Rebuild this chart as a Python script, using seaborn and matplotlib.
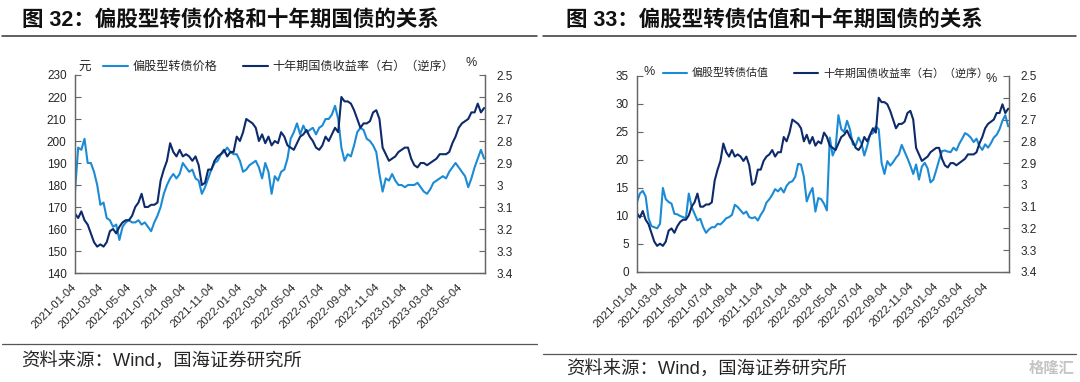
import numpy as np
import pandas as pd
import matplotlib
matplotlib.use("Agg")
import matplotlib.pyplot as plt
from matplotlib.ticker import FuncFormatter
import seaborn as sns

# DATA (weekly readings, Mondays from 2021-01-04)
dates = pd.date_range("2021-01-04", periods=130, freq="7D")

tick_labels = ["2021-01-04", "2021-03-04", "2021-05-04", "2021-07-04", "2021-09-04",
               "2021-11-04", "2022-01-04", "2022-03-04", "2022-05-04", "2022-07-04",
               "2022-09-04", "2022-11-04", "2023-01-04", "2023-03-04", "2023-05-04"]

# 10Y government bond yield (%), right axis, reversed
yield_10y = [3.13, 3.15, 3.12, 3.16, 3.18, 3.22, 3.26, 3.28, 3.27, 3.28,
             3.26, 3.21, 3.20, 3.22, 3.19, 3.17, 3.16, 3.16, 3.14, 3.10,
             3.08, 3.04, 3.10, 3.10, 3.09, 3.09, 3.08, 2.98, 2.93, 2.89,
             2.81, 2.85, 2.87, 2.84, 2.87, 2.86, 2.87, 2.89, 2.87, 2.91,
             3.00, 2.99, 2.93, 2.93, 2.89, 2.87, 2.86, 2.84, 2.87, 2.85,
             2.85, 2.78, 2.80, 2.76, 2.70, 2.71, 2.72, 2.74, 2.80, 2.77,
             2.81, 2.78, 2.82, 2.80, 2.81, 2.76, 2.78, 2.82, 2.83, 2.84,
             2.81, 2.78, 2.77, 2.75, 2.78, 2.80, 2.83, 2.84, 2.82, 2.78,
             2.80, 2.77, 2.74, 2.76, 2.60, 2.62, 2.62, 2.63, 2.66, 2.70,
             2.74, 2.72, 2.72, 2.71, 2.67, 2.66, 2.70, 2.83, 2.86, 2.89,
             2.88, 2.87, 2.85, 2.84, 2.83, 2.83, 2.88, 2.91, 2.92, 2.90,
             2.90, 2.91, 2.90, 2.89, 2.88, 2.86, 2.86, 2.86, 2.85, 2.81,
             2.78, 2.74, 2.72, 2.71, 2.70, 2.67, 2.67, 2.63, 2.67, 2.65]

# Equity-like convertible bond price (yuan)
cb_price = [177, 197, 196, 201, 190, 190, 186, 180, 171, 172,
            165, 164, 161, 162, 155, 161, 163, 164, 163, 163,
            164, 162, 163, 161, 159, 163, 166, 170, 176, 180,
            183, 185, 183, 185, 190, 188, 186, 187, 183, 182,
            176, 179, 183, 187, 190, 191, 194, 195, 197, 195,
            194, 194, 191, 186, 187, 189, 190, 191, 188, 183,
            190, 186, 176, 184, 182, 186, 187, 192, 201, 204,
            208, 203, 207, 204, 205, 206, 203, 206, 207, 210,
            210, 212, 216, 210, 197, 191, 194, 193, 198, 204,
            206, 205, 201, 200, 198, 195, 185, 177, 183, 182,
            185, 182, 180, 180, 179, 180, 180, 180, 181, 179,
            177, 176, 178, 181, 182, 183, 184, 183, 186, 188,
            190, 188, 186, 184, 179, 183, 188, 192, 196, 192]

# Equity-like convertible bond valuation (%)
cb_valuation = [12.5, 14.0, 14.5, 13.5, 9.6, 8.2, 8.0, 7.8, 8.6, 15.0,
                13.0, 12.5, 12.2, 10.4, 10.3, 10.0, 9.8, 9.6, 14.0, 11.6,
                10.4, 9.2, 9.5, 8.0, 7.0, 7.6, 8.0, 8.0, 8.6, 8.5,
                9.0, 9.6, 9.8, 10.2, 12.0, 11.6, 11.0, 10.4, 10.8, 9.8,
                9.6, 9.8, 9.2, 10.2, 11.0, 12.4, 13.0, 13.8, 14.8, 14.4,
                15.0, 14.2, 15.4, 16.0, 16.2, 17.0, 19.3, 19.2, 17.0, 12.6,
                14.0, 15.0, 10.8, 13.2, 13.0, 12.2, 11.0, 24.0, 20.8, 22.0,
                28.0, 25.5, 25.0, 27.0, 25.5, 22.8, 22.6, 24.0, 23.0, 20.8,
                22.5, 24.5, 24.8, 26.0, 25.5, 19.5, 17.5, 19.8, 19.0, 19.6,
                20.4, 21.0, 22.7, 21.5, 20.3, 19.0, 17.5, 19.2, 16.5, 18.8,
                19.5, 18.5, 16.0, 16.5, 18.2, 20.0, 21.6, 21.7, 21.5, 21.4,
                22.2, 21.7, 22.9, 23.8, 24.8, 24.5, 24.0, 23.2, 23.8, 22.5,
                21.8, 22.8, 22.2, 23.0, 24.0, 24.5, 25.5, 27.0, 28.0, 26.0]

yield_ticks = [2.5, 2.6, 2.7, 2.8, 2.9, 3.0, 3.1, 3.2, 3.3, 3.4]
price_ticks = [140, 150, 160, 170, 180, 190, 200, 210, 220, 230]
val_ticks = [0, 5, 10, 15, 20, 25, 30, 35]

light = "#1C8BD6"
dark = "#0D2A6B"
spine_col = "#666666"
text_col = "#262626"

sns.set_style("white")
plt.rcParams["font.family"] = ["Liberation Sans", "Noto Sans CJK SC"]

W, H = 1080, 382
fig = plt.figure(figsize=(W / 100, H / 100), dpi=100)


def fx(px):
    return px / W


def fy(py):
    return 1 - py / H


def panel(x0, x1, y0, y1, values, lticks, lpad):
    ax = fig.add_axes([fx(x0), fy(y1), fx(x1 - x0), (y1 - y0) / H])
    sns.lineplot(x=dates, y=values, ax=ax, color=light, linewidth=1.5)
    ax2 = ax.twinx()
    sns.lineplot(x=dates, y=yield_10y, ax=ax2, color=dark, linewidth=1.5)

    ax.set_ylim(lticks[0], lticks[-1])
    ax.set_yticks(lticks)
    ax2.set_ylim(yield_ticks[-1], yield_ticks[0])
    ax2.set_yticks(yield_ticks)
    ax2.yaxis.set_major_formatter(FuncFormatter(lambda v, p: f"{v:g}"))

    ax.set_xlim(pd.Timestamp("2021-01-04"), pd.Timestamp("2023-06-28"))
    ax.set_xticks(pd.to_datetime(tick_labels))
    ax.set_xticklabels(tick_labels, rotation=45, ha="right", va="center",
                       rotation_mode="anchor", fontsize=8.2, color=text_col)

    for a in (ax, ax2):
        a.set_xlabel("")
        a.set_ylabel("")
        a.spines["top"].set_visible(False)
        for s in ("left", "right", "bottom"):
            a.spines[s].set_color(spine_col)
            a.spines[s].set_linewidth(0.9)
    ax.tick_params(axis="x", direction="in", length=4, width=0.8, color=spine_col, pad=9)
    ax.tick_params(axis="y", direction="in", length=4, width=0.8, color=spine_col,
                   labelsize=8.5, labelcolor=text_col, pad=lpad)
    ax2.tick_params(axis="y", direction="in", length=4, width=0.8, color=spine_col,
                    labelsize=8.5, labelcolor=text_col, pad=8)
    return ax, ax2


# Left panel: price vs 10Y yield
axL, axL2 = panel(75, 485, 75, 273, cb_price, price_ticks, 6)
fig.legend([axL.lines[0], axL2.lines[0]],
           ["偏股型转债价格", "十年期国债收益率（右）（逆序）"],
           loc="center left", bbox_to_anchor=(fx(103), fy(67)), ncol=2,
           frameon=False, fontsize=8.7, handlelength=2.1, handletextpad=0.35,
           columnspacing=2.1, borderpad=0, borderaxespad=0, labelcolor=text_col)
fig.text(fx(78), fy(68), "元", fontsize=9, color=text_col, va="center")
fig.text(fx(466), fy(63), "%", fontsize=9, color=text_col, va="center")

# Right panel: valuation vs 10Y yield
axR, axR2 = panel(637, 1009, 76, 272, cb_valuation, val_ticks, 6)
fig.legend([axR.lines[0], axR2.lines[0]],
           ["偏股型转债估值", "十年期国债收益率（右）（逆序）"],
           loc="center left", bbox_to_anchor=(fx(663), fy(73)), ncol=2,
           frameon=False, fontsize=7.9, handlelength=2.2, handletextpad=0.45,
           columnspacing=2.3, borderpad=0, borderaxespad=0, labelcolor=text_col)
fig.text(fx(643), fy(72), "%", fontsize=9, color=text_col, va="center")
fig.text(fx(986), fy(79), "%", fontsize=9, color=text_col, va="center")

# Titles, rules and sources
fig.text(fx(22), fy(20), "图 32：偏股型转债价格和十年期国债的关系", fontsize=15.5,
         fontweight="bold", color="#111111", va="center")
fig.text(fx(566), fy(20), "图 33：偏股型转债估值和十年期国债的关系", fontsize=15.5,
         fontweight="bold", color="#111111", va="center")
fig.add_artist(plt.Line2D([fx(2), fx(537)], [fy(35.5), fy(35.5)], color="#333333", lw=1.1))
fig.add_artist(plt.Line2D([fx(543), fx(1076)], [fy(36), fy(36)], color="#333333", lw=1.1))
fig.add_artist(plt.Line2D([fx(2), fx(537)], [fy(344), fy(344)], color="#555555", lw=0.9))
fig.add_artist(plt.Line2D([fx(543), fx(1076)], [fy(354), fy(354)], color="#555555", lw=0.9))
fig.text(fx(21), fy(362), "资料来源：Wind，国海证券研究所", fontsize=13.2,
         color=text_col, va="center")
fig.text(fx(566), fy(370), "资料来源：Wind，国海证券研究所", fontsize=13.2,
         color=text_col, va="center")
fig.text(fx(1074), fy(369), "格隆汇", fontsize=11, fontweight="bold",
         color="#c4c4c4", va="center", ha="right")

fig.savefig("out.png", dpi=100, facecolor="white")
